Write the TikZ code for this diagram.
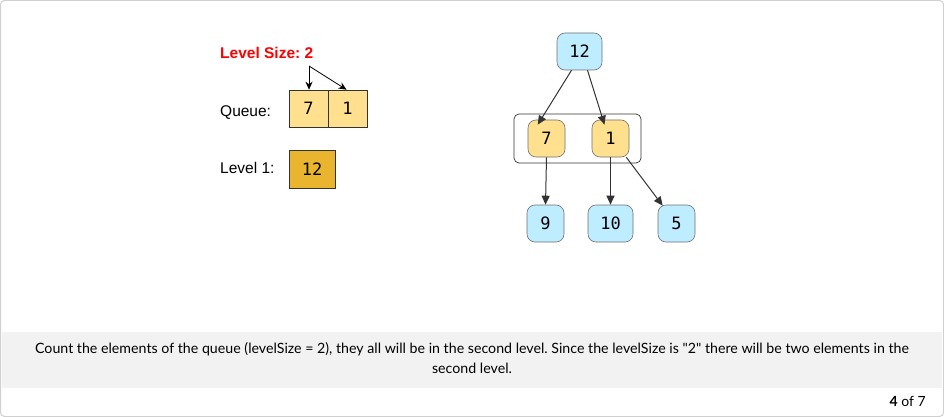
\documentclass[tikz,border=0pt]{standalone}
\usepackage{fontspec}
\setmainfont{Liberation Sans}
\newfontfamily\digitfont{DejaVu Sans Mono}
\newfontfamily\capfont{Lato}
\frenchspacing
\usetikzlibrary{arrows.meta}
\definecolor{frame}{HTML}{D0D0D0}
\definecolor{band}{HTML}{F2F2F2}
\definecolor{qyellow}{HTML}{FFE08F}
\definecolor{gold}{HTML}{E9B52E}
\definecolor{skyblue}{HTML}{BDEDFF}
\definecolor{edgegray}{HTML}{333333}
\definecolor{capred}{HTML}{FF0000}
\tikzset{
  x=1pt, y=-1pt,
  cell/.style={draw=edgegray, line width=0.6pt, minimum width=39pt, minimum height=37pt,
    inner sep=0pt, font=\digitfont\fontsize{17}{17}\selectfont},
  treenode/.style={draw=edgegray!70, line width=0.6pt, rounded corners=8pt, minimum width=37pt,
    minimum height=37pt, inner sep=0pt, fill=skyblue, font=\digitfont\fontsize{17}{17}\selectfont},
  levelnode/.style={treenode, fill=qyellow},
  label text/.style={font=\fontsize{15.5}{15.5}\selectfont, anchor=west, inner sep=0pt},
  link/.style={draw=edgegray, line width=1pt, -{Triangle[length=9pt,width=8pt]}},
  pointer/.style={draw=black, line width=0.8pt, -{Stealth[length=8pt,width=7pt]}},
}
\begin{document}
\begin{tikzpicture}
% page frame and caption band
\fill[white] (0,0) rectangle (944,417);
\draw[frame, line width=1pt, rounded corners=4pt] (0.5,0.5) rectangle (943.5,416.5);
\fill[band] (2,332) rectangle (942,388);
\useasboundingbox (0,0) rectangle (944,417);

% queue state
\node[font=\bfseries\fontsize{15.5}{15.5}\selectfont, text=capred, anchor=west, inner sep=0pt] (lsize) at (220,53) {Level Size: 2};
\node[label text] (qlabel) at (220,113) {Queue:};
\node[label text] (llabel) at (220,168) {Level 1:};
\node[cell, fill=qyellow] (q7) at (308.5,108.5) {7};
\node[cell, fill=qyellow] (q1) at (347.5,108.5) {1};
\node[cell, fill=gold, minimum width=46pt, minimum height=38pt] (l12) at (312,169) {12};
\coordinate (fork) at (309,66);
\draw[pointer] (fork) -- (q7.north -| fork);
\draw[pointer] (fork) -- ([xshift=-1pt]q1.north);

% tree
\node[draw=edgegray, line width=0.7pt, rounded corners=5pt, minimum width=127pt, minimum height=49pt, fill=white] (group) at (577.5,138.5) {};
\node[treenode, minimum width=45pt] (n12) at (579.5,51.5) {12};
\node[levelnode] (n7) at (546.5,138.5) {7};
\node[levelnode] (n1) at (610.5,138.5) {1};
\node[treenode] (n9) at (545.5,223.5) {9};
\node[treenode, minimum width=45pt] (n10) at (610.5,223.5) {10};
\node[treenode] (n5) at (676.5,223.5) {5};

\draw[link] ([xshift=-8pt]n12.south) -- ([xshift=10pt,yshift=-5pt]n7.north west);
\draw[link] ([xshift=8pt]n12.south) -- ([xshift=-6pt,yshift=-5pt]n1.north);
\draw[link] (n7.south) -- (n9.north);
\draw[link] (n1.south) -- (n10.north);
\draw[link] ([xshift=-3pt]n1.south east) -- ([xshift=5pt,yshift=-1pt]n5.north west);

% caption
\node[font=\capfont\fontsize{14.2}{20}\selectfont, align=center] (caption) at (472,358)
  {Count the elements of the queue (levelSize = 2), they all will be in the second level. Since the levelSize is "2" there will be two elements in the\\ second level.};
\node[font=\capfont\fontsize{14}{14}\selectfont, anchor=east, inner sep=0pt] (page) at (926,401) {\textbf{4} of 7};
\end{tikzpicture}
\end{document}
